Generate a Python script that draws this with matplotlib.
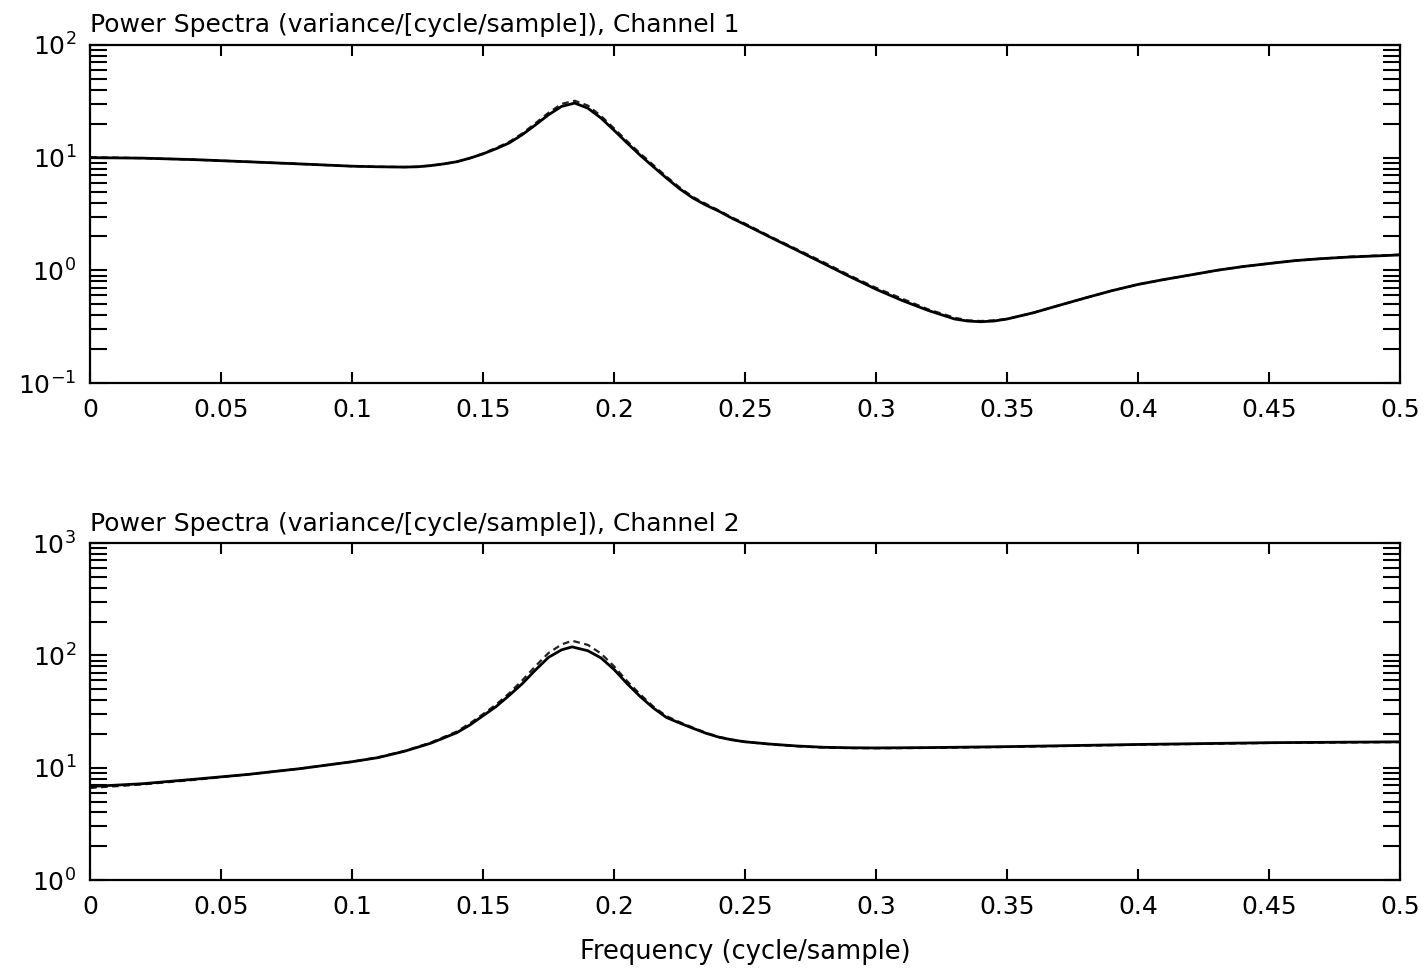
import matplotlib
matplotlib.use("Agg")
import matplotlib.pyplot as plt
from matplotlib.ticker import LogLocator, FixedLocator, FuncFormatter, NullFormatter

# ---------------- data ----------------
freq1 = [0.0, 0.02, 0.04, 0.06, 0.08, 0.10, 0.11, 0.12, 0.125, 0.13, 0.135, 0.14,
         0.145, 0.15, 0.155, 0.16, 0.165, 0.17, 0.175, 0.18, 0.185, 0.19, 0.195,
         0.20, 0.205, 0.21, 0.215, 0.22, 0.225, 0.23, 0.235, 0.24, 0.245, 0.25,
         0.26, 0.27, 0.28, 0.29, 0.30, 0.31, 0.32, 0.33, 0.335, 0.34, 0.345, 0.35,
         0.36, 0.37, 0.38, 0.39, 0.40, 0.41, 0.42, 0.43, 0.44, 0.45, 0.46, 0.47,
         0.48, 0.49, 0.50]
ch1_true = [10.0, 9.9, 9.6, 9.2, 8.8, 8.4, 8.3, 8.25, 8.3, 8.5, 8.8, 9.2,
            9.9, 10.8, 12.0, 13.5, 16.0, 19.5, 24.0, 28.5, 30.5, 27.5, 22.5,
            17.5, 13.5, 10.5, 8.3, 6.6, 5.3, 4.4, 3.8, 3.35, 2.9, 2.55,
            1.95, 1.5, 1.15, 0.88, 0.68, 0.54, 0.44, 0.37, 0.355, 0.35, 0.355, 0.37,
            0.42, 0.49, 0.57, 0.66, 0.75, 0.83, 0.91, 1.0, 1.08, 1.15, 1.22, 1.27,
            1.31, 1.34, 1.37]
ch1_est = [10.1, 9.9, 9.6, 9.2, 8.8, 8.4, 8.3, 8.25, 8.3, 8.5, 8.8, 9.2,
           9.9, 10.9, 12.2, 13.8, 16.4, 20.2, 25.0, 30.0, 32.0, 29.0, 23.5,
           18.2, 14.0, 10.9, 8.6, 6.8, 5.45, 4.5, 3.9, 3.4, 2.95, 2.6,
           1.98, 1.53, 1.18, 0.90, 0.70, 0.56, 0.45, 0.38, 0.36, 0.355, 0.36, 0.37,
           0.42, 0.49, 0.57, 0.66, 0.75, 0.83, 0.91, 1.0, 1.08, 1.15, 1.22, 1.27,
           1.32, 1.35, 1.38]

freq2 = [0.0, 0.02, 0.04, 0.06, 0.08, 0.10, 0.11, 0.12, 0.13, 0.14, 0.145, 0.15,
         0.155, 0.16, 0.165, 0.17, 0.175, 0.18, 0.184, 0.19, 0.195, 0.20, 0.205,
         0.21, 0.215, 0.22, 0.225, 0.23, 0.235, 0.24, 0.245, 0.25, 0.26, 0.27,
         0.28, 0.29, 0.30, 0.32, 0.35, 0.40, 0.45, 0.50]
ch2_true = [6.8, 7.2, 7.9, 8.7, 9.8, 11.3, 12.3, 14.0, 16.5, 20.5, 24.0, 29.0,
            35.0, 44.0, 56.0, 74.0, 96.0, 112.0, 119.0, 110.0, 95.0, 75.0, 56.0,
            43.0, 34.0, 28.0, 25.0, 22.5, 20.3, 18.7, 17.7, 17.0, 16.2, 15.6,
            15.2, 15.05, 15.0, 15.1, 15.4, 16.1, 16.7, 17.0]
ch2_est = [6.6, 7.1, 7.8, 8.7, 9.8, 11.3, 12.4, 14.1, 16.7, 21.0, 24.8, 30.0,
           36.5, 46.0, 60.0, 80.0, 105.0, 125.0, 135.0, 124.0, 104.0, 80.0, 59.0,
           45.0, 35.0, 28.8, 25.5, 22.8, 20.5, 18.8, 17.8, 17.0, 16.1, 15.5,
           15.1, 14.95, 14.9, 15.0, 15.3, 16.0, 16.6, 16.9]

xticks = [0, 0.05, 0.1, 0.15, 0.2, 0.25, 0.3, 0.35, 0.4, 0.45, 0.5]
titles = ["Power Spectra (variance/[cycle/sample]), Channel 1",
          "Power Spectra (variance/[cycle/sample]), Channel 2"]
ylims = [(0.1, 100), (1, 1000)]
xlabel = "Frequency (cycle/sample)"

# ---------------- figure ----------------
plt.rcParams['font.family'] = ['DejaVu Sans']
plt.rcParams['mathtext.fontset'] = 'dejavusans'

fig = plt.figure(figsize=(14.26, 9.69), dpi=100)
ax1 = fig.add_axes([0.0631, 0.6047, 0.9187, 0.3489])
ax2 = fig.add_axes([0.0631, 0.0918, 0.9187, 0.3478])

series = [(ax1, freq1, ch1_true, ch1_est), (ax2, freq2, ch2_true, ch2_est)]

for i, (ax, f, s_true, s_est) in enumerate(series):
    ax.plot(f, s_est, color='#222222', lw=1.6, ls=(0, (3, 2)))
    ax.plot(f, s_true, color='black', lw=2.0)
    ax.set_yscale('log')
    ax.set_xlim(0, 0.5)
    ax.set_ylim(*ylims[i])
    ax.xaxis.set_major_locator(FixedLocator(xticks))
    ax.xaxis.set_major_formatter(FuncFormatter(lambda v, p: "%g" % v))
    ax.yaxis.set_major_locator(LogLocator(base=10, numticks=10))
    ax.yaxis.set_minor_locator(LogLocator(base=10, subs=range(2, 10), numticks=20))
    ax.yaxis.set_minor_formatter(NullFormatter())
    ax.tick_params(axis='both', which='both', direction='in', top=True, right=True,
                   labelsize=18, colors='black', width=1.5)
    ax.tick_params(axis='x', which='major', length=8, pad=11)
    ax.tick_params(axis='y', which='major', length=12, pad=10)
    ax.tick_params(axis='y', which='minor', length=12)
    for sp in ax.spines.values():
        sp.set_linewidth(1.6)
    ax.set_title(titles[i], loc='left', fontsize=18, pad=9)

ax2.set_xlabel(xlabel, fontsize=18.5, labelpad=14)

fig.savefig("out.png", dpi=100)
